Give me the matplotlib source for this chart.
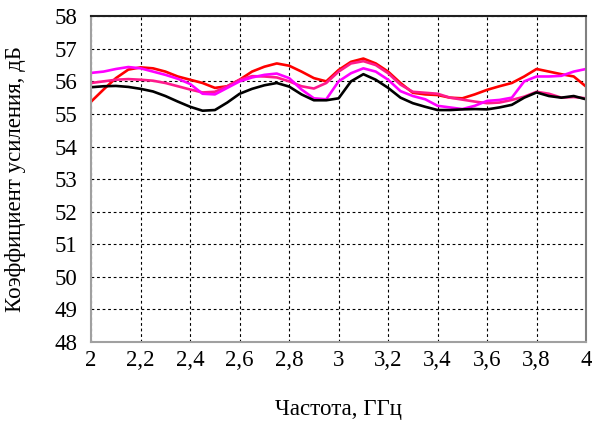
import numpy as np
import matplotlib
matplotlib.use("Agg")
import matplotlib.pyplot as plt
from matplotlib.ticker import FuncFormatter

# frequency grid, GHz
freq = np.round(np.arange(2.0, 4.0001, 0.05), 2)

gain_red = [55.38, 55.75, 56.10, 56.36, 56.43, 56.40, 56.30, 56.15, 56.05, 55.95,
            55.80, 55.85, 56.05, 56.30, 56.45, 56.55, 56.48, 56.30, 56.10, 56.00,
            56.35, 56.60, 56.70, 56.55, 56.30, 55.95, 55.65, 55.60, 55.58, 55.50,
            55.48, 55.60, 55.74, 55.85, 55.95, 56.15, 56.38, 56.30, 56.22, 56.15,
            55.84]
gain_magenta = [56.26, 56.30, 56.38, 56.44, 56.40, 56.30, 56.20, 56.08, 55.92, 55.62,
                55.60, 55.80, 56.00, 56.12, 56.20, 56.24, 56.10, 55.75, 55.48, 55.45,
                56.00, 56.25, 56.40, 56.30, 56.05, 55.70, 55.55, 55.45, 55.25, 55.20,
                55.15, 55.25, 55.40, 55.43, 55.50, 56.00, 56.15, 56.15, 56.17, 56.30,
                56.38]
gain_pink = [55.95, 56.00, 56.05, 56.07, 56.05, 56.02, 55.95, 55.85, 55.75, 55.66,
             55.68, 55.85, 56.05, 56.16, 56.15, 56.12, 56.00, 55.85, 55.78, 55.95,
             56.30, 56.55, 56.62, 56.50, 56.25, 55.90, 55.68, 55.65, 55.62, 55.50,
             55.44, 55.38, 55.33, 55.35, 55.43, 55.53, 55.68, 55.62, 55.50, 55.52,
             55.48]
gain_black = [55.82, 55.85, 55.86, 55.83, 55.77, 55.69, 55.55, 55.38, 55.22, 55.10,
              55.12, 55.35, 55.62, 55.77, 55.88, 55.95, 55.84, 55.60, 55.42, 55.42,
              55.48, 56.00, 56.22, 56.05, 55.80, 55.50, 55.33, 55.22, 55.12, 55.12,
              55.14, 55.15, 55.14, 55.20, 55.28, 55.50, 55.66, 55.55, 55.50, 55.55,
              55.45]

x_ticks = np.round(np.arange(2.0, 4.0001, 0.2), 1)
y_ticks = np.arange(48, 59, 1)

plt.rcParams['font.family'] = ['Liberation Serif', 'DejaVu Serif']

fig = plt.figure(figsize=(5.92, 4.26), dpi=100)
ax = fig.add_axes([0.154, 0.197, 0.836, 0.765])

ax.plot(freq, gain_red, color='#ff0000', lw=1.9)
ax.plot(freq, gain_pink, color='#ff1a8c', lw=1.9)
ax.plot(freq, gain_magenta, color='#ff00ff', lw=1.9)
ax.plot(freq, gain_black, color='black', lw=1.9)

ax.set_xlim(2, 4)
ax.set_ylim(48, 58)
ax.set_xticks(x_ticks)
ax.set_yticks(y_ticks)
ax.xaxis.set_major_formatter(FuncFormatter(lambda v, p: f"{v:g}".replace('.', ',')))
ax.tick_params(length=0, labelsize=16.5)
ax.tick_params(axis='y', pad=10)
ax.tick_params(axis='x', pad=6)
ax.grid(True, color='black', ls=(0, (2.5, 2.5)), lw=0.8)

ax.spines['top'].set_color('#202020')
ax.spines['right'].set_color('#808080')
ax.spines['left'].set_color('#a0a0a0')
ax.spines['bottom'].set_color('#a0a0a0')
for s in ax.spines.values():
    s.set_linewidth(1.5)

ax.set_xlabel("Частота, ГГц", fontsize=16.5)
ax.set_ylabel("Коэффициент усиления, дБ", fontsize=16.5)
ax.xaxis.set_label_coords(0.5, -0.175)
ax.yaxis.set_label_coords(-0.131, 0.5)

fig.savefig("out.png", dpi=100)
